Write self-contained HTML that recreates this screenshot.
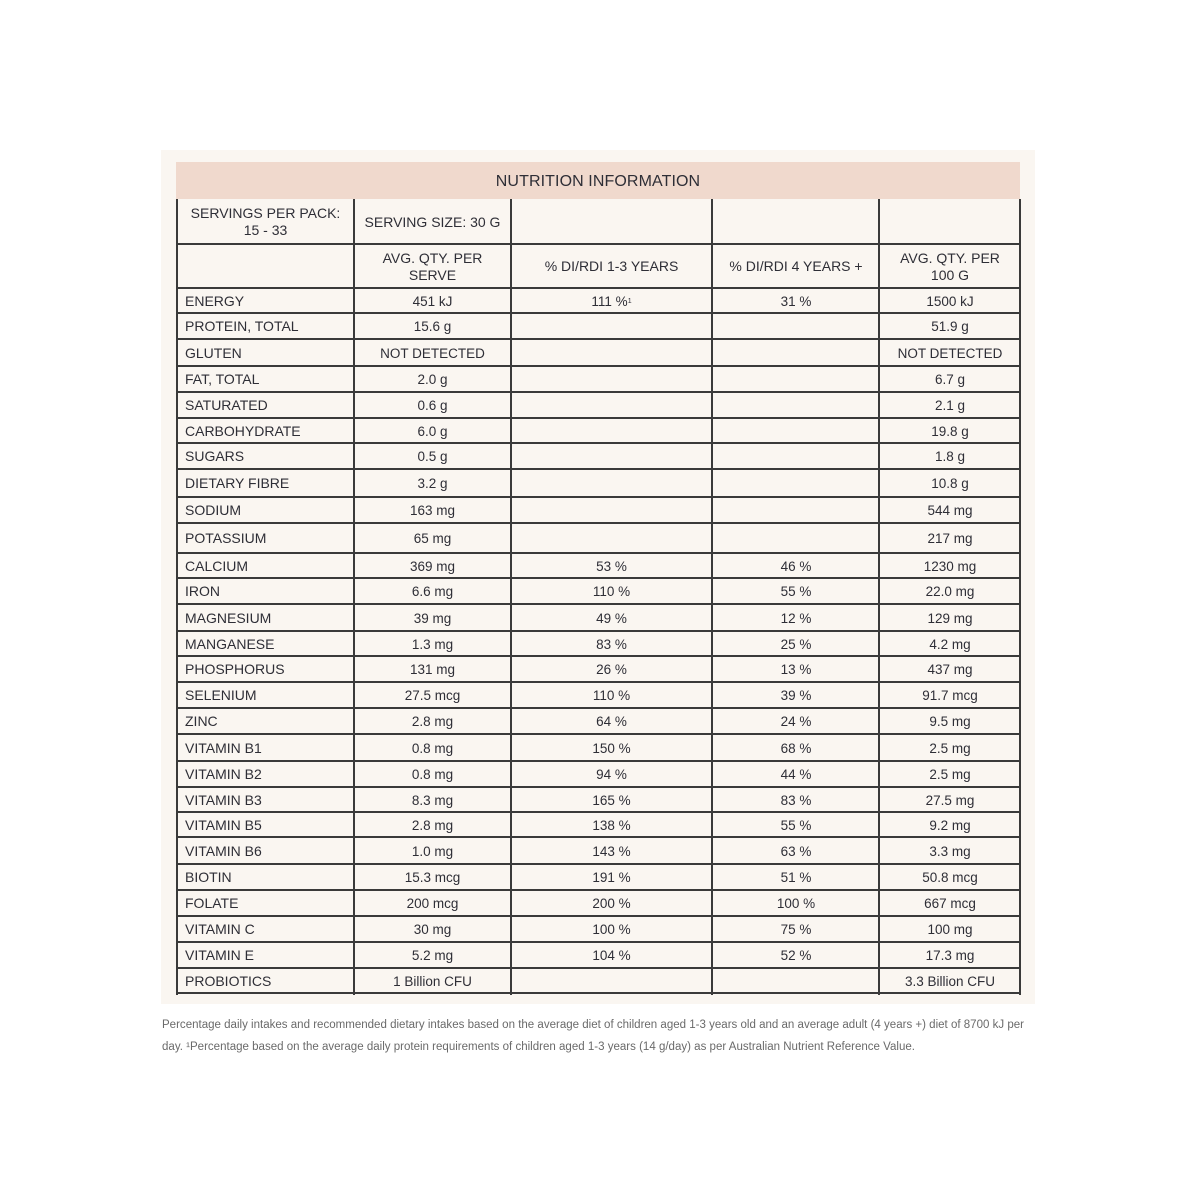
<!DOCTYPE html>
<html><head><meta charset="utf-8">
<style>
html,body{margin:0;padding:0;background:#fff;}
#w{position:relative;width:1200px;height:1200px;overflow:hidden;background:#fff;font-family:"Liberation Sans",sans-serif;color:#2e2e36;}
.panel{position:absolute;left:161px;top:150px;width:874px;height:854px;background:#faf6f1;}
.hdr{position:absolute;left:176px;top:162px;width:844px;height:37px;box-sizing:border-box;padding-top:3px;background:#f0d9cd;display:flex;align-items:center;justify-content:center;font-size:16px;letter-spacing:0.1px;}
.h{position:absolute;left:176px;width:845px;height:2px;background:#3a3a3a;}
.v{position:absolute;top:199px;width:2px;height:796px;background:#3a3a3a;}
.r{position:absolute;left:0;width:1200px;}
.r span{position:absolute;top:0;bottom:0;display:flex;align-items:center;justify-content:center;text-align:center;font-size:13.5px;line-height:17px;}
.r .c1{left:185px;width:165px;justify-content:flex-start;font-size:14px;}
.r .c2{left:355px;width:155px;}
.r .c3{left:511px;width:201px;}
.r .c4{left:713px;width:166px;}
.r .c5{left:880px;width:140px;}
.r .hd{font-size:14px;}
sup{font-size:7px;vertical-align:5px;}
svg{position:absolute;left:0;top:0;}
</style></head><body><div id="w">
<div class="panel"></div>
<div class="hdr">NUTRITION INFORMATION</div>

<div class="r" style="top:200px;height:44px"><span class="c1 hd" style="left:177px;width:177px;justify-content:center">SERVINGS PER PACK:<br>15 - 33</span><span class="c2 hd">SERVING SIZE: 30 G</span></div>
<div class="r" style="top:245px;height:43px"><span class="c2 hd">AVG. QTY. PER<br>SERVE</span><span class="c3 hd">% DI/RDI 1-3 YEARS</span><span class="c4 hd">% DI/RDI 4 YEARS +</span><span class="c5 hd">AVG. QTY. PER<br>100 G</span></div>

<div class="r" style="top:289px;height:24px"><span class="c1">ENERGY</span><span class="c2">451 kJ</span><span class="c3">111 %<sup>1</sup></span><span class="c4">31 %</span><span class="c5">1500 kJ</span></div>
<div class="r" style="top:314px;height:25px"><span class="c1">PROTEIN, TOTAL</span><span class="c2">15.6 g</span><span class="c5">51.9 g</span></div>
<div class="r" style="top:340px;height:26px"><span class="c1">GLUTEN</span><span class="c2">NOT DETECTED</span><span class="c5">NOT DETECTED</span></div>
<div class="r" style="top:367px;height:25px"><span class="c1">FAT, TOTAL</span><span class="c2">2.0 g</span><span class="c5">6.7 g</span></div>
<div class="r" style="top:393px;height:25px"><span class="c1">SATURATED</span><span class="c2">0.6 g</span><span class="c5">2.1 g</span></div>
<div class="r" style="top:419px;height:24px"><span class="c1">CARBOHYDRATE</span><span class="c2">6.0 g</span><span class="c5">19.8 g</span></div>
<div class="r" style="top:444px;height:25px"><span class="c1">SUGARS</span><span class="c2">0.5 g</span><span class="c5">1.8 g</span></div>
<div class="r" style="top:470px;height:27px"><span class="c1">DIETARY FIBRE</span><span class="c2">3.2 g</span><span class="c5">10.8 g</span></div>
<div class="r" style="top:498px;height:25px"><span class="c1">SODIUM</span><span class="c2">163 mg</span><span class="c5">544 mg</span></div>
<div class="r" style="top:524px;height:29px"><span class="c1">POTASSIUM</span><span class="c2">65 mg</span><span class="c5">217 mg</span></div>
<div class="r" style="top:554px;height:24px"><span class="c1">CALCIUM</span><span class="c2">369 mg</span><span class="c3">53 %</span><span class="c4">46 %</span><span class="c5">1230 mg</span></div>
<div class="r" style="top:579px;height:25px"><span class="c1">IRON</span><span class="c2">6.6 mg</span><span class="c3">110 %</span><span class="c4">55 %</span><span class="c5">22.0 mg</span></div>
<div class="r" style="top:605px;height:26px"><span class="c1">MAGNESIUM</span><span class="c2">39 mg</span><span class="c3">49 %</span><span class="c4">12 %</span><span class="c5">129 mg</span></div>
<div class="r" style="top:632px;height:24px"><span class="c1">MANGANESE</span><span class="c2">1.3 mg</span><span class="c3">83 %</span><span class="c4">25 %</span><span class="c5">4.2 mg</span></div>
<div class="r" style="top:657px;height:25px"><span class="c1">PHOSPHORUS</span><span class="c2">131 mg</span><span class="c3">26 %</span><span class="c4">13 %</span><span class="c5">437 mg</span></div>
<div class="r" style="top:683px;height:25px"><span class="c1">SELENIUM</span><span class="c2">27.5 mcg</span><span class="c3">110 %</span><span class="c4">39 %</span><span class="c5">91.7 mcg</span></div>
<div class="r" style="top:709px;height:25px"><span class="c1">ZINC</span><span class="c2">2.8 mg</span><span class="c3">64 %</span><span class="c4">24 %</span><span class="c5">9.5 mg</span></div>
<div class="r" style="top:735px;height:26px"><span class="c1">VITAMIN B1</span><span class="c2">0.8 mg</span><span class="c3">150 %</span><span class="c4">68 %</span><span class="c5">2.5 mg</span></div>
<div class="r" style="top:762px;height:25px"><span class="c1">VITAMIN B2</span><span class="c2">0.8 mg</span><span class="c3">94 %</span><span class="c4">44 %</span><span class="c5">2.5 mg</span></div>
<div class="r" style="top:788px;height:24px"><span class="c1">VITAMIN B3</span><span class="c2">8.3 mg</span><span class="c3">165 %</span><span class="c4">83 %</span><span class="c5">27.5 mg</span></div>
<div class="r" style="top:813px;height:24px"><span class="c1">VITAMIN B5</span><span class="c2">2.8 mg</span><span class="c3">138 %</span><span class="c4">55 %</span><span class="c5">9.2 mg</span></div>
<div class="r" style="top:838px;height:26px"><span class="c1">VITAMIN B6</span><span class="c2">1.0 mg</span><span class="c3">143 %</span><span class="c4">63 %</span><span class="c5">3.3 mg</span></div>
<div class="r" style="top:865px;height:25px"><span class="c1">BIOTIN</span><span class="c2">15.3 mcg</span><span class="c3">191 %</span><span class="c4">51 %</span><span class="c5">50.8 mcg</span></div>
<div class="r" style="top:891px;height:25px"><span class="c1">FOLATE</span><span class="c2">200 mcg</span><span class="c3">200 %</span><span class="c4">100 %</span><span class="c5">667 mcg</span></div>
<div class="r" style="top:917px;height:25px"><span class="c1">VITAMIN C</span><span class="c2">30 mg</span><span class="c3">100 %</span><span class="c4">75 %</span><span class="c5">100 mg</span></div>
<div class="r" style="top:943px;height:25px"><span class="c1">VITAMIN E</span><span class="c2">5.2 mg</span><span class="c3">104 %</span><span class="c4">52 %</span><span class="c5">17.3 mg</span></div>
<div class="r" style="top:969px;height:24px"><span class="c1">PROBIOTICS</span><span class="c2">1 Billion CFU</span><span class="c5">3.3 Billion CFU</span></div>

<!-- grid -->
<div class="h" style="top:243px"></div>
<div class="h" style="top:287px"></div>
<div class="h" style="top:312px"></div>
<div class="h" style="top:338px"></div>
<div class="h" style="top:365px"></div>
<div class="h" style="top:391px"></div>
<div class="h" style="top:417px"></div>
<div class="h" style="top:442px"></div>
<div class="h" style="top:468px"></div>
<div class="h" style="top:496px"></div>
<div class="h" style="top:522px"></div>
<div class="h" style="top:552px"></div>
<div class="h" style="top:577px"></div>
<div class="h" style="top:603px"></div>
<div class="h" style="top:630px"></div>
<div class="h" style="top:655px"></div>
<div class="h" style="top:681px"></div>
<div class="h" style="top:707px"></div>
<div class="h" style="top:733px"></div>
<div class="h" style="top:760px"></div>
<div class="h" style="top:786px"></div>
<div class="h" style="top:811px"></div>
<div class="h" style="top:836px"></div>
<div class="h" style="top:863px"></div>
<div class="h" style="top:889px"></div>
<div class="h" style="top:915px"></div>
<div class="h" style="top:941px"></div>
<div class="h" style="top:967px"></div>
<div class="h" style="top:992px"></div>
<div class="v" style="left:176px"></div>
<div class="v" style="left:353px"></div>
<div class="v" style="left:510px"></div>
<div class="v" style="left:711px"></div>
<div class="v" style="left:878px"></div>
<div class="v" style="left:1019px"></div>

<svg width="1200" height="1200" viewBox="0 0 1200 1200">
<text x="162" y="1028" font-family="Liberation Sans, sans-serif" font-size="11.5" fill="#6a6a6a" textLength="862" lengthAdjust="spacingAndGlyphs">Percentage daily intakes and recommended dietary intakes based on the average diet of children aged 1-3 years old and an average adult (4 years +) diet of 8700 kJ per</text>
<text x="162" y="1050" font-family="Liberation Sans, sans-serif" font-size="11.5" fill="#6a6a6a" textLength="753" lengthAdjust="spacingAndGlyphs">day. ¹Percentage based on the average daily protein requirements of children aged 1-3 years (14 g/day) as per Australian Nutrient Reference Value.</text>
</svg>
</div></body></html>
